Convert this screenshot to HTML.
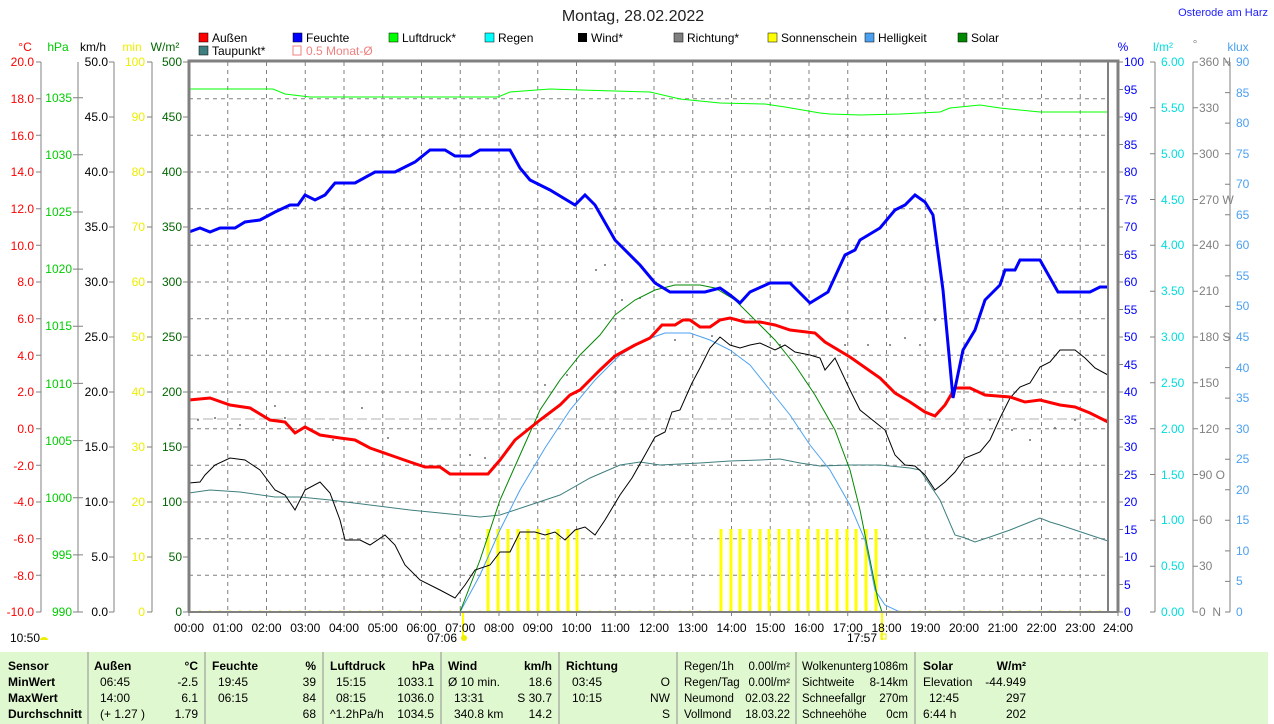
<!DOCTYPE html>
<html><head><meta charset="utf-8"><style>
body{margin:0;background:#fff;}
svg{display:block;font-family:"Liberation Sans",sans-serif;font-size:12px;}
</style></head><body>
<svg width="1274" height="724" viewBox="0 0 1274 724" xmlns="http://www.w3.org/2000/svg">
<rect width="1274" height="724" fill="#fff"/>
<text x="633" y="21" font-size="16" text-anchor="middle" fill="#222">Montag, 28.02.2022</text>
<text x="1268" y="16" font-size="11" text-anchor="end" fill="#2020ff">Osterode am Harz</text>
<g font-size="12">
<rect x="199" y="33" width="9" height="9" fill="#f00" stroke="#000" stroke-width="0.5"/><text x="212" y="42">Außen</text>
<rect x="293" y="33" width="9" height="9" fill="#00f" stroke="#000" stroke-width="0.5"/><text x="306" y="42">Feuchte</text>
<rect x="389" y="33" width="9" height="9" fill="#0f0" stroke="#000" stroke-width="0.5"/><text x="402" y="42">Luftdruck*</text>
<rect x="485" y="33" width="9" height="9" fill="#0ff" stroke="#000" stroke-width="0.5"/><text x="498" y="42">Regen</text>
<rect x="578" y="33" width="9" height="9" fill="#000"/><text x="591" y="42">Wind*</text>
<rect x="674" y="33" width="9" height="9" fill="#808080" stroke="#000" stroke-width="0.5"/><text x="687" y="42">Richtung*</text>
<rect x="768" y="33" width="9" height="9" fill="#ff0" stroke="#000" stroke-width="0.5"/><text x="781" y="42">Sonnenschein</text>
<rect x="865" y="33" width="9" height="9" fill="#4ca0f0" stroke="#000" stroke-width="0.5"/><text x="878" y="42">Helligkeit</text>
<rect x="958" y="33" width="9" height="9" fill="#080" stroke="#000" stroke-width="0.5"/><text x="971" y="42">Solar</text>
<rect x="199" y="46" width="9" height="9" fill="#3f7f7f" stroke="#000" stroke-width="0.5"/><text x="212" y="55">Taupunkt*</text>
<rect x="293" y="46" width="8" height="9" fill="none" stroke="#f08080"/><text x="306" y="55" fill="#f08080">0.5 Monat-Ø</text>
</g>
<g font-size="12">
<text x="25" y="51" text-anchor="middle" fill="#f00">°C</text>
<text x="58" y="51" text-anchor="middle" fill="#0c0">hPa</text>
<text x="93" y="51" text-anchor="middle">km/h</text>
<text x="132" y="51" text-anchor="middle" fill="#ee0">min</text>
<text x="165" y="51" text-anchor="middle" fill="#060">W/m²</text>
<text x="1123" y="51" text-anchor="middle" fill="#00f">%</text>
<text x="1163" y="51" text-anchor="middle" fill="#0dd">l/m²</text>
<text x="1195" y="48" text-anchor="middle" fill="#888">°</text>
<text x="1238" y="51" text-anchor="middle" fill="#4ca0f0">klux</text>
</g>
<g stroke="#808080" stroke-dasharray="4,4" stroke-width="1">
<line x1="189" y1="98.7" x2="1108" y2="98.7"/><line x1="189" y1="135.3" x2="1108" y2="135.3"/><line x1="189" y1="172" x2="1108" y2="172"/><line x1="189" y1="208.7" x2="1108" y2="208.7"/><line x1="189" y1="245.3" x2="1108" y2="245.3"/><line x1="189" y1="282" x2="1108" y2="282"/><line x1="189" y1="318.7" x2="1108" y2="318.7"/><line x1="189" y1="355.3" x2="1108" y2="355.3"/><line x1="189" y1="392" x2="1108" y2="392"/><line x1="189" y1="428.7" x2="1108" y2="428.7"/><line x1="189" y1="465.3" x2="1108" y2="465.3"/><line x1="189" y1="502" x2="1108" y2="502"/><line x1="189" y1="538.7" x2="1108" y2="538.7"/><line x1="189" y1="575.3" x2="1108" y2="575.3"/>
<line x1="227.75" y1="62" x2="227.75" y2="612"/><line x1="266.5" y1="62" x2="266.5" y2="612"/><line x1="305.25" y1="62" x2="305.25" y2="612"/><line x1="344" y1="62" x2="344" y2="612"/><line x1="382.75" y1="62" x2="382.75" y2="612"/><line x1="421.5" y1="62" x2="421.5" y2="612"/><line x1="460.25" y1="62" x2="460.25" y2="612"/><line x1="499" y1="62" x2="499" y2="612"/><line x1="537.75" y1="62" x2="537.75" y2="612"/><line x1="576.5" y1="62" x2="576.5" y2="612"/><line x1="615.25" y1="62" x2="615.25" y2="612"/><line x1="654" y1="62" x2="654" y2="612"/><line x1="692.75" y1="62" x2="692.75" y2="612"/><line x1="731.5" y1="62" x2="731.5" y2="612"/><line x1="770.25" y1="62" x2="770.25" y2="612"/><line x1="809" y1="62" x2="809" y2="612"/><line x1="847.75" y1="62" x2="847.75" y2="612"/><line x1="886.5" y1="62" x2="886.5" y2="612"/><line x1="925.25" y1="62" x2="925.25" y2="612"/><line x1="964" y1="62" x2="964" y2="612"/><line x1="1002.75" y1="62" x2="1002.75" y2="612"/><line x1="1041.5" y1="62" x2="1041.5" y2="612"/><line x1="1080.25" y1="62" x2="1080.25" y2="612"/>
</g>
<line x1="189" y1="419" x2="1108" y2="419" stroke="#b0b0b0" stroke-dasharray="10,4"/>
<g stroke="#ff0" stroke-width="3">
<path d="M488 612V529M498 612V529M508 612V529M518 612V529M528 612V529M538 612V529M548 612V529M558 612V529M568 612V529M577 612V529M721 612V529M731 612V529M740 612V529M750 612V529M760 612V529M769 612V529M779 612V529M789 612V529M798 612V529M808 612V529M818 612V529M827 612V529M837 612V529M847 612V529M856 612V529M866 612V529M876 612V529"/>
<path d="M463 612V640M882 612V640" stroke-width="2"/>
</g>
<line x1="189" y1="611" x2="1108" y2="611" stroke="#ee0" stroke-dasharray="2,8"/>
<g fill="#707070">
<circle cx="198" cy="420" r="1"/><circle cx="215" cy="418" r="1"/><circle cx="240" cy="425" r="1"/><circle cx="275" cy="406" r="1"/><circle cx="285" cy="418" r="1"/><circle cx="333" cy="440" r="1"/><circle cx="362" cy="408" r="1"/><circle cx="388" cy="438" r="1"/><circle cx="470" cy="455" r="1"/><circle cx="485" cy="458" r="1"/><circle cx="545" cy="385" r="1"/><circle cx="567" cy="375" r="1"/><circle cx="596" cy="270" r="1"/><circle cx="605" cy="265" r="1"/><circle cx="622" cy="300" r="1"/><circle cx="640" cy="298" r="1"/><circle cx="675" cy="340" r="1"/><circle cx="712" cy="336" r="1"/><circle cx="780" cy="345" r="1"/><circle cx="845" cy="345" r="1"/><circle cx="868" cy="345" r="1"/><circle cx="890" cy="345" r="1"/><circle cx="905" cy="338" r="1"/><circle cx="920" cy="345" r="1"/><circle cx="935" cy="320" r="1"/><circle cx="990" cy="420" r="1"/><circle cx="1012" cy="430" r="1"/><circle cx="1030" cy="440" r="1"/><circle cx="1055" cy="428" r="1"/><circle cx="1075" cy="420" r="1"/>
</g>
<polyline fill="none" stroke="#0f0" stroke-width="1" points="189,89 273,89 285,94 310,97 420,97 498,97 510,92 550,89 580,90 650,92 680,99 720,103 765,104 785,107 820,113 830,114 860,115 900,114 940,112 950,108 980,105 1000,108 1040,112 1108,112"/>
<polyline fill="none" stroke="#3f7f7f" stroke-width="1" points="189,493 210,490 240,492 275,497 300,497 330,500 370,505 410,510 450,514 480,517 500,515 530,505 560,495 590,478 620,465 640,462 660,465 700,463 730,461 760,460 780,459 800,463 820,466 850,465 880,465 910,468 920,470 940,500 955,535 965,538 975,542 990,537 1010,530 1030,522 1040,518 1050,522 1060,525 1075,530 1090,535 1108,541"/>
<polyline fill="none" stroke="#4ca0f0" stroke-width="1" points="460,612 480,575 500,530 520,490 545,448 570,410 595,380 620,355 645,340 665,333 690,333 710,340 730,350 750,365 770,390 790,415 810,445 830,470 850,505 865,540 875,590 885,605 900,612"/>
<polyline fill="none" stroke="#080" stroke-width="1" points="460,612 480,560 500,500 520,455 540,410 560,380 580,355 600,335 615,315 635,300 655,290 675,285 700,285 715,288 735,300 755,320 775,340 795,365 815,395 835,430 850,470 860,510 870,560 878,600 882,612"/>
<polyline fill="none" stroke="#000" stroke-width="1" points="189,483 200,482 205,475 215,465 230,458 245,460 260,470 275,490 285,495 295,510 305,490 320,482 330,493 340,520 345,540 360,540 370,545 385,535 395,545 405,565 420,580 440,590 455,598 465,585 475,570 490,565 500,552 510,552 520,532 535,532 545,535 555,532 565,540 575,530 585,527 595,535 605,520 620,495 632,478 645,455 655,437 665,432 672,412 680,410 692,383 700,368 710,348 720,337 730,345 740,348 750,345 760,343 775,350 785,345 795,352 810,355 820,358 825,370 835,358 850,390 860,410 875,422 885,430 895,455 905,465 915,466 925,475 935,490 945,482 955,472 965,458 980,452 990,440 1000,418 1010,398 1020,387 1030,383 1040,367 1050,362 1060,350 1075,350 1085,358 1095,368 1108,375"/>
<polyline fill="none" stroke="#f00" stroke-width="3" points="189,400 210,398 230,405 250,408 270,420 285,422 295,433 305,427 320,435 340,438 355,440 370,448 390,455 410,462 425,467 440,467 450,474 488,474 500,460 515,440 540,420 560,405 570,395 580,390 590,380 600,370 615,356 635,345 650,338 662,325 675,325 683,320 690,320 700,327 710,327 720,320 730,318 745,322 760,322 775,325 790,330 815,333 825,342 850,357 880,378 895,393 910,402 925,412 935,416 945,405 955,388 970,388 985,395 1010,397 1025,402 1040,400 1060,405 1075,407 1090,413 1108,422"/>
<polyline fill="none" stroke="#00f" stroke-width="3" points="189,232 200,228 210,232 220,228 235,228 245,222 260,220 275,212 290,205 298,205 305,195 315,200 325,195 335,183 355,183 375,172 395,172 415,162 430,150 445,150 455,156 470,156 480,150 510,150 520,168 530,180 550,190 575,205 585,195 595,205 615,240 640,265 655,283 670,292 705,292 720,288 730,295 740,303 750,292 770,283 790,283 810,303 828,292 845,255 855,250 860,240 880,228 895,210 905,205 915,195 925,202 933,215 943,290 953,398 963,350 975,330 985,300 1000,285 1005,270 1015,270 1020,260 1040,260 1058,292 1090,292 1100,287 1108,287"/>
<g stroke="#808080" stroke-width="3" fill="none">
<path d="M189 612V61H1118V612"/>
<line x1="1108" y1="61" x2="1108" y2="612" stroke-width="2"/>
<line x1="188" y1="612" x2="1118" y2="612" stroke-width="2"/>
</g>
<g stroke="#808080"><path d="M189 612v4M227.75 612v4M266.5 612v4M305.25 612v4M344 612v4M382.75 612v4M421.5 612v4M460.25 612v4M499 612v4M537.75 612v4M576.5 612v4M615.25 612v4M654 612v4M692.75 612v4M731.5 612v4M770.25 612v4M809 612v4M847.75 612v4M886.5 612v4M925.25 612v4M964 612v4M1002.75 612v4M1041.5 612v4M1080.25 612v4M1118 612v4"/></g>
<g font-size="12" text-anchor="middle">
<text x="189" y="632">00:00</text><text x="227.75" y="632">01:00</text><text x="266.5" y="632">02:00</text><text x="305.25" y="632">03:00</text><text x="344" y="632">04:00</text><text x="382.75" y="632">05:00</text><text x="421.5" y="632">06:00</text><text x="460.25" y="632">07:00</text><text x="499" y="632">08:00</text><text x="537.75" y="632">09:00</text><text x="576.5" y="632">10:00</text><text x="615.25" y="632">11:00</text><text x="654" y="632">12:00</text><text x="692.75" y="632">13:00</text><text x="731.5" y="632">14:00</text><text x="770.25" y="632">15:00</text><text x="809" y="632">16:00</text><text x="847.75" y="632">17:00</text><text x="886.5" y="632">18:00</text><text x="925.25" y="632">19:00</text><text x="964" y="632">20:00</text><text x="1002.75" y="632">21:00</text><text x="1041.5" y="632">22:00</text><text x="1080.25" y="632">23:00</text><text x="1118" y="632">24:00</text>
</g>
<text x="10" y="642" font-size="12">10:50</text><path d="M40 640a4 3 0 0 1 8 0z" fill="#ee0"/>
<text x="457" y="642" font-size="12" text-anchor="end">07:06</text><circle cx="464" cy="638" r="3" fill="#ee0"/>
<text x="877" y="642" font-size="12" text-anchor="end">17:57</text><rect x="881" y="634" width="5" height="5" fill="none" stroke="#ee0"/>
<g stroke="#808080" fill="none">
<line x1="41" y1="62" x2="41" y2="612"/><line x1="78" y1="62" x2="78" y2="612"/><line x1="114" y1="62" x2="114" y2="612"/><line x1="152" y1="62" x2="152" y2="612"/>
<line x1="1155" y1="62" x2="1155" y2="612"/><line x1="1193" y1="62" x2="1193" y2="612"/><line x1="1230" y1="62" x2="1230" y2="612"/>
<path d="M36 62h5M36 98.7h5M36 135.3h5M36 172h5M36 208.7h5M36 245.3h5M36 282h5M36 318.7h5M36 355.3h5M36 392h5M36 428.7h5M36 465.3h5M36 502h5M36 538.7h5M36 575.3h5M36 612h5"/>
<path d="M73 612h10M73 554.9h10M73 497.7h10M73 440.6h10M73 383.4h10M73 326.3h10M73 269.1h10M73 212h10M73 154.8h10M73 97.7h10"/>
<path d="M109 62h5M109 117h5M109 172h5M109 227h5M109 282h5M109 337h5M109 392h5M109 447h5M109 502h5M109 557h5M109 612h5"/>
<path d="M147 62h5M147 117h5M147 172h5M147 227h5M147 282h5M147 337h5M147 392h5M147 447h5M147 502h5M147 557h5M147 612h5"/>
<path d="M183 62h5M183 117h5M183 172h5M183 227h5M183 282h5M183 337h5M183 392h5M183 447h5M183 502h5M183 557h5M183 612h5"/>
<path d="M1118 62h5M1118 89.5h5M1118 117h5M1118 144.5h5M1118 172h5M1118 199.5h5M1118 227h5M1118 254.5h5M1118 282h5M1118 309.5h5M1118 337h5M1118 364.5h5M1118 392h5M1118 419.5h5M1118 447h5M1118 474.5h5M1118 502h5M1118 529.5h5M1118 557h5M1118 584.5h5M1118 612h5"/>
<path d="M1150 62h5M1150 107.8h5M1150 153.7h5M1150 199.5h5M1150 245.3h5M1150 291.2h5M1150 337h5M1150 382.8h5M1150 428.7h5M1150 474.5h5M1150 520.3h5M1150 566.2h5M1150 612h5"/>
<path d="M1193 62h5M1193 107.8h5M1193 153.7h5M1193 199.5h5M1193 245.3h5M1193 291.2h5M1193 337h5M1193 382.8h5M1193 428.7h5M1193 474.5h5M1193 520.3h5M1193 566.2h5M1193 612h5"/>
<path d="M1225 62h5M1225 92.6h5M1225 123.1h5M1225 153.7h5M1225 184.2h5M1225 214.8h5M1225 245.3h5M1225 275.9h5M1225 306.4h5M1225 337h5M1225 367.6h5M1225 398.1h5M1225 428.7h5M1225 459.2h5M1225 489.8h5M1225 520.3h5M1225 550.9h5M1225 581.4h5M1225 612h5"/>
</g>
<g font-size="12" text-anchor="end">
<g fill="#f00"><text x="34" y="66">20.0</text><text x="34" y="103">18.0</text><text x="34" y="140">16.0</text><text x="34" y="176">14.0</text><text x="34" y="213">12.0</text><text x="34" y="250">10.0</text><text x="34" y="286">8.0</text><text x="34" y="323">6.0</text><text x="34" y="360">4.0</text><text x="34" y="396">2.0</text><text x="34" y="433">0.0</text><text x="34" y="470">-2.0</text><text x="34" y="506">-4.0</text><text x="34" y="543">-6.0</text><text x="34" y="580">-8.0</text><text x="34" y="616">-10.0</text></g>
<g fill="#0c0"><text x="72" y="616">990</text><text x="72" y="559">995</text><text x="72" y="502">1000</text><text x="72" y="445">1005</text><text x="72" y="388">1010</text><text x="72" y="330">1015</text><text x="72" y="273">1020</text><text x="72" y="216">1025</text><text x="72" y="159">1030</text><text x="72" y="102">1035</text></g>
<g fill="#000"><text x="108" y="66">50.0</text><text x="108" y="121">45.0</text><text x="108" y="176">40.0</text><text x="108" y="231">35.0</text><text x="108" y="286">30.0</text><text x="108" y="341">25.0</text><text x="108" y="396">20.0</text><text x="108" y="451">15.0</text><text x="108" y="506">10.0</text><text x="108" y="561">5.0</text><text x="108" y="616">0.0</text></g>
<g fill="#ee0"><text x="145" y="66">100</text><text x="145" y="121">90</text><text x="145" y="176">80</text><text x="145" y="231">70</text><text x="145" y="286">60</text><text x="145" y="341">50</text><text x="145" y="396">40</text><text x="145" y="451">30</text><text x="145" y="506">20</text><text x="145" y="561">10</text><text x="145" y="616">0</text></g>
<g fill="#060"><text x="182" y="66">500</text><text x="182" y="121">450</text><text x="182" y="176">400</text><text x="182" y="231">350</text><text x="182" y="286">300</text><text x="182" y="341">250</text><text x="182" y="396">200</text><text x="182" y="451">150</text><text x="182" y="506">100</text><text x="182" y="561">50</text><text x="182" y="616">0</text></g>
</g>
<g font-size="12">
<g fill="#00f"><text x="1124" y="66">100</text><text x="1124" y="94">95</text><text x="1124" y="121">90</text><text x="1124" y="149">85</text><text x="1124" y="176">80</text><text x="1124" y="204">75</text><text x="1124" y="231">70</text><text x="1124" y="259">65</text><text x="1124" y="286">60</text><text x="1124" y="314">55</text><text x="1124" y="341">50</text><text x="1124" y="369">45</text><text x="1124" y="396">40</text><text x="1124" y="424">35</text><text x="1124" y="451">30</text><text x="1124" y="479">25</text><text x="1124" y="506">20</text><text x="1124" y="534">15</text><text x="1124" y="561">10</text><text x="1124" y="589">5</text><text x="1124" y="616">0</text></g>
<g fill="#0dd"><text x="1161" y="66">6.00</text><text x="1161" y="112">5.50</text><text x="1161" y="158">5.00</text><text x="1161" y="204">4.50</text><text x="1161" y="249">4.00</text><text x="1161" y="295">3.50</text><text x="1161" y="341">3.00</text><text x="1161" y="387">2.50</text><text x="1161" y="433">2.00</text><text x="1161" y="479">1.50</text><text x="1161" y="524">1.00</text><text x="1161" y="570">0.50</text><text x="1161" y="616">0.00</text></g>
<g fill="#808080"><text x="1199" y="66">360 N</text><text x="1199" y="112">330</text><text x="1199" y="158">300</text><text x="1199" y="204">270 W</text><text x="1199" y="249">240</text><text x="1199" y="295">210</text><text x="1199" y="341">180 S</text><text x="1199" y="387">150</text><text x="1199" y="433">120</text><text x="1199" y="479">90 O</text><text x="1199" y="524">60</text><text x="1199" y="570">30</text><text x="1199" y="616">0 &#160;N</text></g>
<g fill="#4ca0f0"><text x="1236" y="66">90</text><text x="1236" y="97">85</text><text x="1236" y="127">80</text><text x="1236" y="158">75</text><text x="1236" y="188">70</text><text x="1236" y="219">65</text><text x="1236" y="249">60</text><text x="1236" y="280">55</text><text x="1236" y="310">50</text><text x="1236" y="341">45</text><text x="1236" y="372">40</text><text x="1236" y="402">35</text><text x="1236" y="433">30</text><text x="1236" y="463">25</text><text x="1236" y="494">20</text><text x="1236" y="524">15</text><text x="1236" y="555">10</text><text x="1236" y="585">5</text><text x="1236" y="616">0</text></g>
</g>
<rect x="0" y="652" width="1268" height="72" fill="#e0f8d0"/>
<g stroke="#909090"><path d="M88 652V724M205 652V724M323 652V724M441 652V724M559 652V724M677 652V724M796 652V724M915 652V724"/></g>
<g font-size="12">
<g font-weight="bold"><text x="8" y="670">Sensor</text><text x="8" y="686">MinWert</text><text x="8" y="702">MaxWert</text><text x="8" y="718">Durchschnitt</text>
<text x="94" y="670">Außen</text><text x="198" y="670" text-anchor="end">°C</text>
<text x="212" y="670">Feuchte</text><text x="316" y="670" text-anchor="end">%</text>
<text x="330" y="670">Luftdruck</text><text x="434" y="670" text-anchor="end">hPa</text>
<text x="448" y="670">Wind</text><text x="552" y="670" text-anchor="end">km/h</text>
<text x="566" y="670">Richtung</text>
<text x="923" y="670">Solar</text><text x="1026" y="670" text-anchor="end">W/m²</text></g>
<text x="100" y="686">06:45</text><text x="198" y="686" text-anchor="end">-2.5</text>
<text x="100" y="702">14:00</text><text x="198" y="702" text-anchor="end">6.1</text>
<text x="100" y="718">(+ 1.27 )</text><text x="198" y="718" text-anchor="end">1.79</text>
<text x="218" y="686">19:45</text><text x="316" y="686" text-anchor="end">39</text>
<text x="218" y="702">06:15</text><text x="316" y="702" text-anchor="end">84</text>
<text x="316" y="718" text-anchor="end">68</text>
<text x="336" y="686">15:15</text><text x="434" y="686" text-anchor="end">1033.1</text>
<text x="336" y="702">08:15</text><text x="434" y="702" text-anchor="end">1036.0</text>
<text x="330" y="718">^1.2hPa/h</text><text x="434" y="718" text-anchor="end">1034.5</text>
<text x="448" y="686">Ø 10 min.</text><text x="552" y="686" text-anchor="end">18.6</text>
<text x="454" y="702">13:31</text><text x="552" y="702" text-anchor="end">S 30.7</text>
<text x="454" y="718">340.8 km</text><text x="552" y="718" text-anchor="end">14.2</text>
<text x="572" y="686">03:45</text><text x="670" y="686" text-anchor="end">O</text>
<text x="572" y="702">10:15</text><text x="670" y="702" text-anchor="end">NW</text>
<text x="670" y="718" text-anchor="end">S</text>
<g font-size="11.5">
<text x="684" y="670">Regen/1h</text><text x="790" y="670" text-anchor="end">0.00l/m²</text>
<text x="684" y="686">Regen/Tag</text><text x="790" y="686" text-anchor="end">0.00l/m²</text>
<text x="684" y="702">Neumond</text><text x="790" y="702" text-anchor="end">02.03.22</text>
<text x="684" y="718">Vollmond</text><text x="790" y="718" text-anchor="end">18.03.22</text>
<text x="802" y="670" textLength="70" lengthAdjust="spacingAndGlyphs">Wolkenunterg</text><text x="908" y="670" text-anchor="end">1086m</text>
<text x="802" y="686">Sichtweite</text><text x="908" y="686" text-anchor="end">8-14km</text>
<text x="802" y="702">Schneefallgr</text><text x="908" y="702" text-anchor="end">270m</text>
<text x="802" y="718">Schneehöhe</text><text x="908" y="718" text-anchor="end">0cm</text>
</g>
<text x="923" y="686">Elevation</text><text x="1026" y="686" text-anchor="end">-44.949</text>
<text x="929" y="702">12:45</text><text x="1026" y="702" text-anchor="end">297</text>
<text x="923" y="718">6:44 h</text><text x="1026" y="718" text-anchor="end">202</text>
</g>
</svg>
</body></html>
